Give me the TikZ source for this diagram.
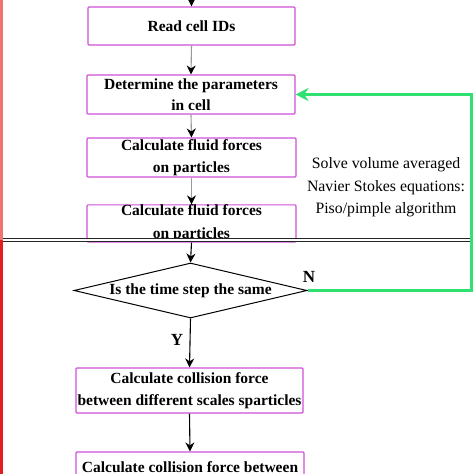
\documentclass[tikz,border=0pt]{standalone}
\usepackage{fontspec}
\setmainfont{Liberation Serif}
\usetikzlibrary{shapes.geometric,arrows.meta}
\definecolor{boxline}{HTML}{D050D8}
\definecolor{loopgreen}{HTML}{30E070}
\definecolor{redtop}{HTML}{F07272}
\definecolor{redbot}{HTML}{E41E1E}
\tikzset{
  stepbox/.style={draw=boxline, line width=1.1pt, rounded corners=1pt, inner sep=0pt,
    align=center, font=\fontsize{15.5}{21}\selectfont\bfseries, text=black},
  decision/.style={draw=black, line width=1pt, diamond, aspect=4.2, inner sep=0pt,
    font=\fontsize{15.5}{21}\selectfont\bfseries},
  grayarrow/.style={draw=gray!80, line width=1.1pt, -{Stealth[length=9pt,width=9pt,black]}},
  blackarrow/.style={draw=black, line width=1.1pt, -{Stealth[length=9pt,width=9pt,black]}},
  sidetext/.style={align=center, font=\fontsize{15.8}{22.5}\selectfont},
  lbl/.style={font=\fontsize{17}{20}\selectfont\bfseries}
}
\begin{document}
\begin{tikzpicture}[x=1pt,y=-1pt]
\useasboundingbox (0,0) rectangle (474,474);
\clip (0,0) rectangle (474,474);
\fill[white] (0,0) rectangle (474,474);
% red margin line
\fill[redtop] (0,0) rectangle (3,240);
\fill[redbot] (0,240) rectangle (3,474);
% boxes
\node[stepbox, minimum width=207pt, minimum height=38pt] (b1) at (191.5,26) {Read cell IDs};
\node[stepbox, minimum width=208pt, minimum height=39pt] (b2) at (191,94.5) {Determine the parameters\\in cell};
\node[stepbox, minimum width=209pt, minimum height=39pt] (b3) at (191.5,157.5) {Calculate fluid forces\\[1pt]on particles};
\node[stepbox, minimum width=209pt, minimum height=37pt] (b4) at (191.5,223.5) {Calculate fluid forces\\[2pt]on particles};
\node[decision, minimum width=233pt, minimum height=55pt] (d) at (190.5,290.5) {Is the time step the same};
\node[stepbox, minimum width=227pt, minimum height=45pt] (b5) at (189.5,390.5) {Calculate collision force\\[1pt]between different scales sparticles};
\node[stepbox, minimum width=228pt, minimum height=30pt] (b6) at (190,467) {Calculate collision force between};
% double separator line
\coordinate (sepL) at (3,240);
\coordinate (sepR) at (472,240);
\draw[double=white, double distance=1.8pt, line width=0.9pt, draw=black!85] (sepL) -- (sepR);
% arrows
\coordinate (topin) at (191.5,0);
\draw[blackarrow] (topin) -- (b1.north);
\draw[grayarrow] (b1.south) -- (b2.north);
\draw[grayarrow] (b2.south) -- (b3.north);
\draw[grayarrow] (b3.south) -- (b4.north);
\draw[blackarrow] (b4.south) -- (d.north);
\draw[blackarrow] (d.south) -- (b5.north);
\draw[blackarrow] (b5.south) -- (b6.north);
% loop back
\coordinate (loopR) at (471.5,0);
\draw[draw=loopgreen, line width=2.2pt, -{Stealth[length=13pt,width=13pt]}] (d.east) -| (loopR |- b2.east) -- (b2.east);
% labels
\node[lbl] (n) at (309,277) {N};
\node[lbl] (y) at (177,340) {Y};
\node[sidetext] (side) at (386,187.5) {Solve volume averaged\\Navier Stokes equations:\\Piso/pimple algorithm};
\end{tikzpicture}
\end{document}
